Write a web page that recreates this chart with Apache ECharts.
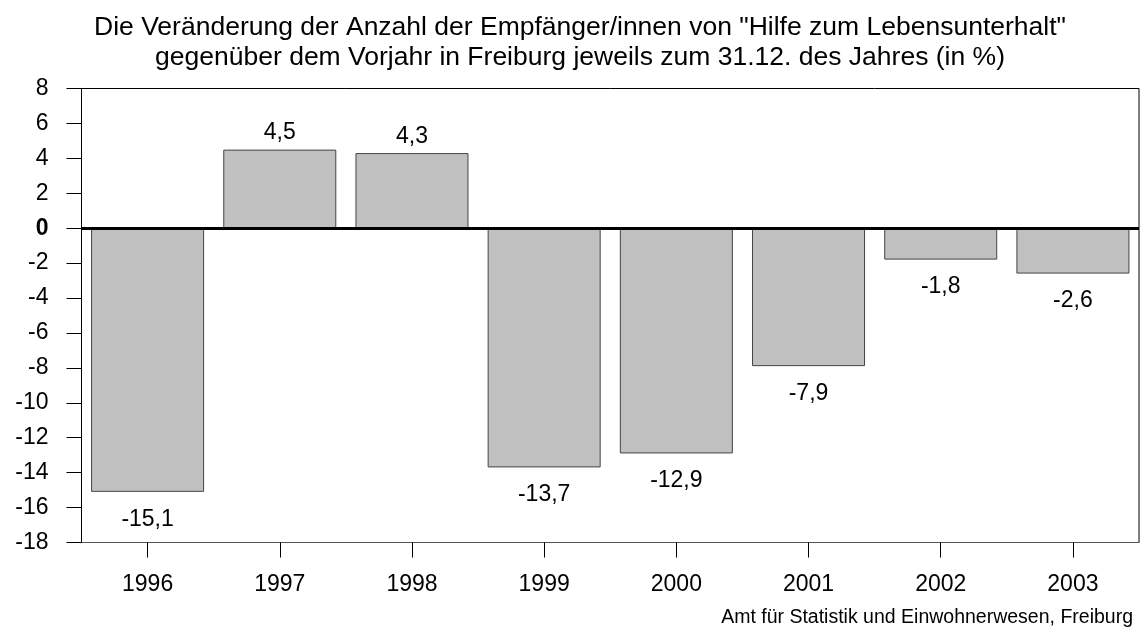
<!DOCTYPE html>
<html>
<head>
<meta charset="utf-8">
<script src="https://cdn.jsdelivr.net/npm/echarts@6/dist/echarts.min.js"></script>
<style>
  html, body { margin: 0; padding: 0; background: #fff; }
  #chart { width: 1141px; height: 627px; }
</style>
</head>
<body>
<div id="chart"></div>
<script>
var years = ["1996", "1997", "1998", "1999", "2000", "2001", "2002", "2003"];
var changes = [-15.1, 4.5, 4.3, -13.7, -12.9, -7.9, -1.8, -2.6];
var yMin = -18, yMax = 8, yStep = 2;
var titleText = 'Die Veränderung der Anzahl der Empfänger/innen von "Hilfe zum Lebensunterhalt"\ngegenüber dem Vorjahr in Freiburg jeweils zum 31.12. des Jahres (in %)';
var sourceText = "Amt für Statistik und Einwohnerwesen, Freiburg";

var font = "Liberation Sans, Arial, sans-serif";

var barData = changes.map(function (v) {
  return {
    value: v,
    label: v >= 0 ? { position: "top", distance: 5 } : { position: "bottom", distance: 16 }
  };
});

var chart = echarts.init(document.getElementById("chart"));
var option = {
  backgroundColor: "#fff",
  animation: false,
  title: [
    {
      text: titleText,
      left: 575,
      top: 8,
      textAlign: "center",
      textStyle: { fontFamily: font, fontSize: 26.5, fontWeight: "normal", color: "#000", lineHeight: 30 }
    },
    {
      text: sourceText,
      right: 3,
      top: 603,
      textStyle: { fontFamily: font, fontSize: 19.5, fontWeight: "normal", color: "#000" }
    }
  ],
  grid: {
    left: 81.5,
    right: 2,
    top: 88.5,
    bottom: 84.5,
    show: true,
    borderColor: "#000",
    borderWidth: 1,
    backgroundColor: "#fff"
  },
  xAxis: {
    type: "category",
    data: years,
    axisLine: { show: true, onZero: false, lineStyle: { color: "#555", width: 1 } },
    axisTick: { show: true, alignWithLabel: true, length: 15, lineStyle: { color: "#000" } },
    axisLabel: { margin: 31, fontFamily: font, fontSize: 23, color: "#000" },
    splitLine: { show: false }
  },
  yAxis: {
    type: "value",
    min: yMin,
    max: yMax,
    interval: yStep,
    axisLine: { show: true, lineStyle: { color: "#000", width: 1 } },
    axisTick: { show: true, length: 15, lineStyle: { color: "#000" } },
    axisLabel: {
      margin: 33,
      fontFamily: font,
      fontSize: 23,
      color: "#000",
      formatter: function (v) { return v === 0 ? "{b|0}" : String(v); },
      rich: { b: { fontFamily: font, fontSize: 23, fontWeight: "bold", color: "#000" } }
    },
    splitLine: { show: false }
  },
  series: [
    {
      type: "bar",
      data: barData,
      barCategoryGap: "14.5%",
      itemStyle: { color: "#c0c0c0", borderColor: "#444", borderWidth: 1 },
      label: {
        show: true,
        fontFamily: font,
        fontSize: 23,
        color: "#000",
        formatter: function (p) { return String(p.value).replace(".", ","); }
      },
      markLine: {
        silent: true,
        symbol: "none",
        label: { show: false },
        lineStyle: { color: "#000", width: 3, type: "solid" },
        data: [{ yAxis: 0 }]
      }
    }
  ]
};
chart.setOption(option);
</script>
</body>
</html>
